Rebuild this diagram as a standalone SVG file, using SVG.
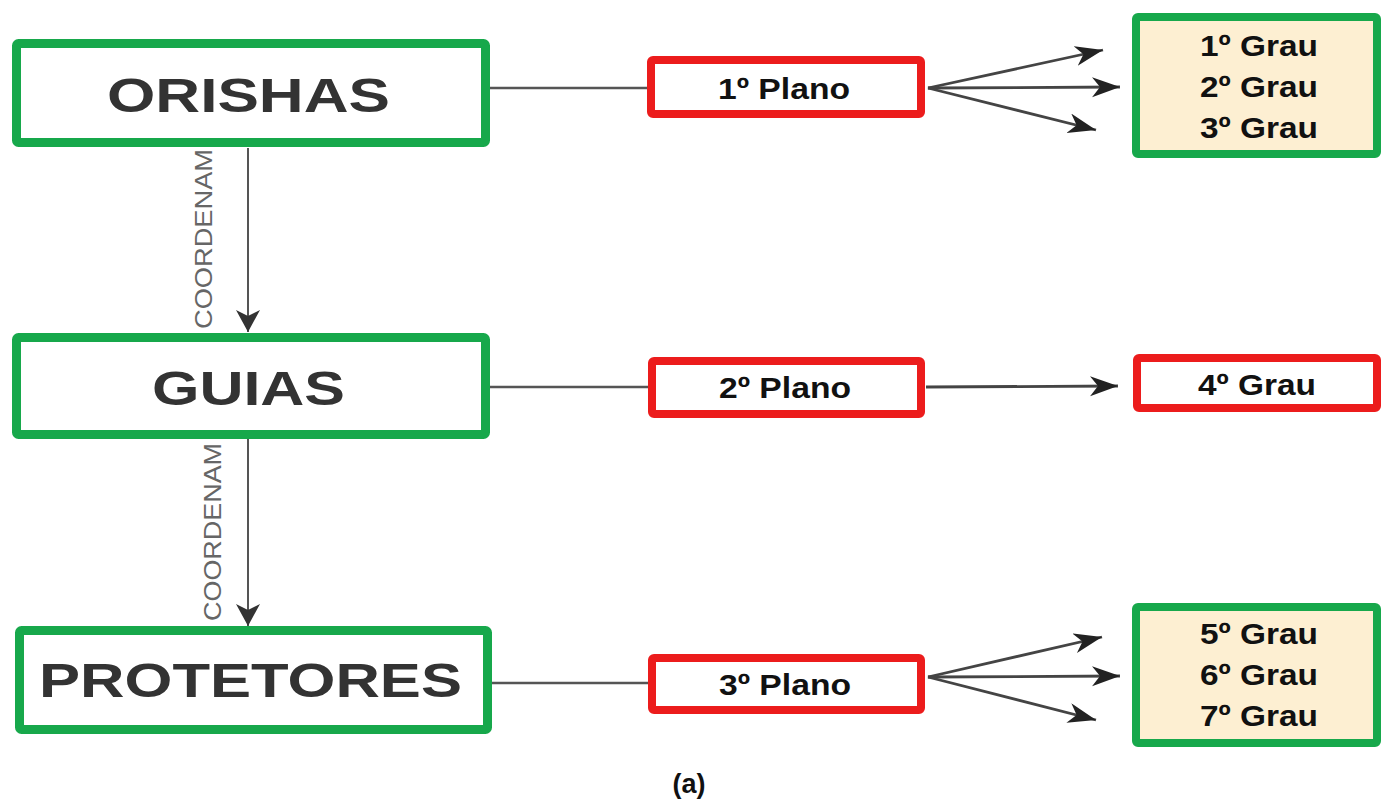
<svg xmlns="http://www.w3.org/2000/svg" width="1382" height="800" viewBox="0 0 1382 800">
  <defs>
    <style>
      .main { fill: #ffffff; stroke: #17a84b; stroke-width: 9; }
      .grau { fill: #fdefd2; stroke: #17a84b; stroke-width: 8; }
      .plano { fill: #ffffff; stroke: #ec1c1c; stroke-width: 8; }
      .big { font-family: "Liberation Sans", Arial, sans-serif; font-weight: bold; font-size: 49px; fill: #333333; text-anchor: middle; }
      .lbl { font-family: "Liberation Sans", Arial, sans-serif; font-weight: bold; font-size: 30px; fill: #111111; text-anchor: middle; }
      .coord { font-family: "Liberation Sans", Arial, sans-serif; font-size: 24px; fill: #666666; text-anchor: middle; }
      .ln { stroke: #555555; stroke-width: 2.4; fill: none; }
      .ar { stroke: #444444; stroke-width: 2.8; fill: none; marker-end: url(#ah); }
      .va { stroke: #555555; stroke-width: 2; fill: none; marker-end: url(#vh); }
    </style>
    <marker id="ah" markerUnits="userSpaceOnUse" markerWidth="32" markerHeight="24" refX="28" refY="10" orient="auto">
      <path d="M0,0 L28,10 L0,20 L8,10 Z" fill="#222222"/>
    </marker>
    <marker id="vh" markerUnits="userSpaceOnUse" markerWidth="26" markerHeight="26" refX="22" refY="12" orient="auto">
      <path d="M0,0 L22,12 L0,24 L6,12 Z" fill="#333333"/>
    </marker>
  </defs>
  <rect width="1382" height="800" fill="#ffffff"/>

  <g id="connectors">
    <line class="ln" x1="490" y1="88" x2="648" y2="88"/>
    <line class="ln" x1="490" y1="387" x2="648" y2="387"/>
    <line class="ln" x1="492" y1="683" x2="648" y2="683"/>
    <line class="ar" x1="928" y1="88" x2="1103" y2="50"/>
    <line class="ar" x1="928" y1="88" x2="1120" y2="87"/>
    <line class="ar" x1="928" y1="88" x2="1096" y2="130"/>
    <line class="ar" x1="926" y1="387" x2="1118" y2="386"/>
    <line class="ar" x1="928" y1="677" x2="1102" y2="637"/>
    <line class="ar" x1="928" y1="677" x2="1120" y2="676"/>
    <line class="ar" x1="928" y1="677" x2="1096" y2="720"/>
    <line class="va" x1="248" y1="148" x2="248" y2="332"/>
    <line class="va" x1="248" y1="439" x2="248" y2="626"/>
    <text class="coord" transform="translate(212,239) rotate(-90)" textLength="180" lengthAdjust="spacingAndGlyphs">COORDENAM</text>
    <text class="coord" transform="translate(221,532) rotate(-90)" textLength="178" lengthAdjust="spacingAndGlyphs">COORDENAM</text>
  </g>

  <g id="orishas">
    <rect class="main" x="16.5" y="43.5" width="469" height="99" rx="2"/>
    <text class="big" x="248.5" y="112" textLength="283" lengthAdjust="spacingAndGlyphs">ORISHAS</text>
  </g>
  <g id="guias">
    <rect class="main" x="16.5" y="337.5" width="469" height="97" rx="2"/>
    <text class="big" x="248.5" y="405" textLength="193" lengthAdjust="spacingAndGlyphs">GUIAS</text>
  </g>
  <g id="protetores">
    <rect class="main" x="19.5" y="630.5" width="468" height="99" rx="2"/>
    <text class="big" x="250.5" y="697" textLength="423" lengthAdjust="spacingAndGlyphs">PROTETORES</text>
  </g>

  <g id="plano1">
    <rect class="plano" x="651" y="60" width="270" height="54" rx="2"/>
    <text class="lbl" x="784" y="99" textLength="132" lengthAdjust="spacingAndGlyphs">1º Plano</text>
  </g>
  <g id="plano2">
    <rect class="plano" x="652" y="361" width="269" height="53" rx="2"/>
    <text class="lbl" x="785" y="398" textLength="132" lengthAdjust="spacingAndGlyphs">2º Plano</text>
  </g>
  <g id="plano3">
    <rect class="plano" x="652" y="658" width="269" height="52" rx="2"/>
    <text class="lbl" x="785" y="695" textLength="132" lengthAdjust="spacingAndGlyphs">3º Plano</text>
  </g>

  <g id="graus123">
    <rect class="grau" x="1136" y="17" width="241" height="137" rx="2"/>
    <text class="lbl" x="1259" y="56" textLength="118" lengthAdjust="spacingAndGlyphs">1º Grau</text>
    <text class="lbl" x="1259" y="97" textLength="118" lengthAdjust="spacingAndGlyphs">2º Grau</text>
    <text class="lbl" x="1259" y="138" textLength="118" lengthAdjust="spacingAndGlyphs">3º Grau</text>
  </g>
  <g id="grau4">
    <rect class="plano" x="1137" y="358" width="240" height="50" rx="2"/>
    <text class="lbl" x="1257" y="395" textLength="118" lengthAdjust="spacingAndGlyphs">4º Grau</text>
  </g>
  <g id="graus567">
    <rect class="grau" x="1136" y="607" width="241" height="136" rx="2"/>
    <text class="lbl" x="1259" y="644" textLength="118" lengthAdjust="spacingAndGlyphs">5º Grau</text>
    <text class="lbl" x="1259" y="685" textLength="118" lengthAdjust="spacingAndGlyphs">6º Grau</text>
    <text class="lbl" x="1259" y="726" textLength="118" lengthAdjust="spacingAndGlyphs">7º Grau</text>
  </g>

  <text class="lbl" x="689" y="793" style="font-size:27px">(a)</text>
</svg>
